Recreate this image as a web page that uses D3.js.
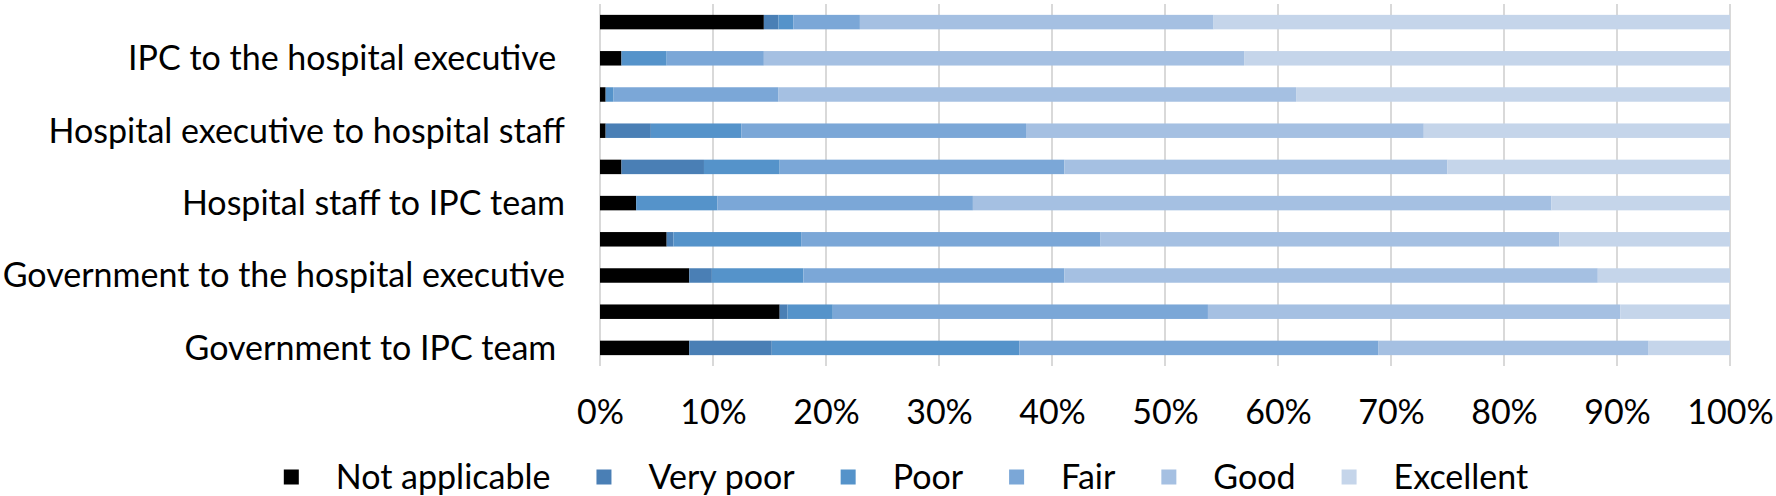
<!DOCTYPE html>
<html>
<head>
<meta charset="utf-8">
<script src="https://cdn.jsdelivr.net/npm/d3@7"></script>
<style>
  body { margin: 0; background: #fff; }
  svg { display: block; font-family: Lato, "Open Sans", sans-serif; }
</style>
</head>
<body>
<div id="chart"></div>
<script>
// Categories from top to bottom (only every other one is labelled in the original)
const categories = [
    "",
    "IPC to the hospital executive ",
    "",
    "Hospital executive to hospital staff",
    "",
    "Hospital staff to IPC team",
    "",
    "Government to the hospital executive",
    "",
    "Government to IPC team "
];

// Series names and values (% of respondents), top bar first
const seriesNames = ["Not applicable", "Very poor", "Poor", "Fair", "Good", "Excellent"];
const notApplicable = [14.5, 1.9, 0.5, 0.5, 1.9, 3.2, 5.9, 7.9, 15.9, 7.9];
const veryPoor = [1.3, 0, 0, 4.0, 7.3, 0, 0.6, 2.0, 0.7, 7.3];
const poor = [1.3, 4.0, 0.7, 8.0, 6.7, 7.2, 11.3, 8.1, 4.0, 21.9];
const fair = [5.9, 8.6, 14.6, 25.2, 25.2, 22.6, 26.5, 23.1, 33.2, 31.8];
const good = [31.3, 42.5, 45.8, 35.2, 33.9, 51.2, 40.6, 47.2, 36.5, 23.9];
const excellent = [45.7, 43.0, 38.4, 27.1, 25.0, 15.8, 15.1, 11.7, 9.7, 7.2];

const tickValues = [0, 0.1, 0.2, 0.3, 0.4, 0.5, 0.6, 0.7, 0.8, 0.9, 1];

const colors = ["#000000", "#4a7fb5", "#5593ca", "#7ba7d7", "#a5c0e2", "#c5d5ea"];

// Build rows for d3.stack
const seriesValues = [notApplicable, veryPoor, poor, fair, good, excellent];
const rows = categories.map((c, i) => {
    const row = { index: i };
    seriesNames.forEach((s, k) => { row[s] = seriesValues[k][i]; });
    return row;
});

const width = 1776, height = 496;
const fontSize = 34;
const svg = d3.select("#chart").append("svg")
    .attr("width", width)
    .attr("height", height);

const x = d3.scaleLinear().domain([0, 1]).range([600, 1730]);
const y = d3.scaleBand()
    .domain(d3.range(categories.length))
    .range([4, 366])
    .paddingInner(0.6)
    .paddingOuter(0.3);

const color = d3.scaleOrdinal().domain(seriesNames).range(colors);

// Gridlines
svg.append("g")
    .selectAll("line")
    .data(tickValues)
    .join("line")
    .attr("x1", d => x(d))
    .attr("x2", d => x(d))
    .attr("y1", 4)
    .attr("y2", 366)
    .attr("stroke", "#d9d9d9")
    .attr("stroke-width", 2);

// Stacked bars
const stacked = d3.stack()
    .keys(seriesNames)
    .offset(d3.stackOffsetExpand)(rows);

svg.append("g")
    .selectAll("g")
    .data(stacked)
    .join("g")
    .attr("fill", d => color(d.key))
    .selectAll("rect")
    .data(d => d)
    .join("rect")
    .attr("x", d => x(d[0]))
    .attr("y", d => y(d.data.index))
    .attr("width", d => Math.max(0, x(d[1]) - x(d[0])))
    .attr("height", y.bandwidth());

// Category labels
const yAxis = svg.append("g")
    .attr("transform", "translate(565,0)")
    .call(d3.axisLeft(y).tickSize(0).tickPadding(0).tickFormat(i => categories[i]));
yAxis.select(".domain").remove();
yAxis.selectAll("text")
    .attr("font-size", fontSize)
    .attr("font-family", "Lato, sans-serif")
    .attr("fill", "#000")
    .attr("dy", "0.35em")
    .style("white-space", "pre");

// Percentage axis
const xAxis = svg.append("g")
    .attr("transform", "translate(0,424)")
    .call(d3.axisBottom(x).tickValues(tickValues).tickSize(0).tickFormat(d3.format(".0%")));
xAxis.select(".domain").remove();
xAxis.selectAll("text")
    .attr("y", 0)
    .attr("dy", 0)
    .attr("font-size", fontSize)
    .attr("font-family", "Lato, sans-serif")
    .attr("fill", "#000");

// Legend
const legend = svg.append("g");
let lx = 0;
seriesNames.forEach((name, k) => {
    const item = legend.append("g").attr("transform", `translate(${lx},0)`);
    item.append("rect")
        .attr("x", 0)
        .attr("y", -7.5)
        .attr("width", 15)
        .attr("height", 15)
        .attr("fill", colors[k]);
    const t = item.append("text")
        .attr("x", 52)
        .attr("dy", "0.35em")
        .attr("font-size", fontSize)
        .attr("fill", "#000")
        .text(name);
    lx += 52 + t.node().getComputedTextLength() + 46;
});
const legendWidth = lx - 46;
legend.attr("transform", `translate(${906 - legendWidth / 2},477)`);
</script>
</body>
</html>
